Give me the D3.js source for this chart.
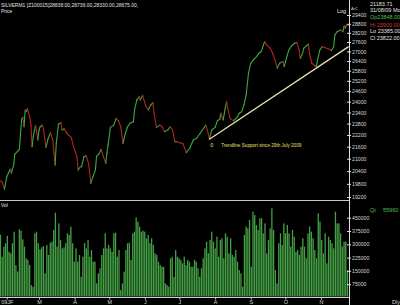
<!DOCTYPE html>
<html><head><meta charset="utf-8">
<script src="https://cdn.jsdelivr.net/npm/d3@7"></script>
<style>html,body{margin:0;padding:0;background:#000;overflow:hidden}</style>
</head><body>
<svg id="c" width="400" height="305"></svg>
<script>
// ---- data ----
const priceDays = [26,28,30,32,35,36,38,39,42,43,44,45,46,47,48,49,50,52,53,54,55,57,59,60,61,63,64,66,68,70,72,73,74,75,77,79,80,82,84,88,90,93,94,96,97,99,101,103,104,105,107,109,110,112,114,116,118,119,120,122,125,127,129,131,133,135,137,139,142,143,145,147,148,150,151,153,155,157,159,160,162,165,167,169,172,174,176,178,180,182,185,188,191,194,197,200,203,205,207,208,210,213,215,217,218,219,220,222,223,224,226,229,232,234,236,238,240,242,244,246,249,251,253,255,256,258,261,263,265,267,269,272,273,275,277,280,282,284,286,287,289,290,293,294,295,297,300,301,302,304,306,308,310,312,314,316,317,319,322,324,325,326,327,329];
const priceClose = [19950,19900,19550,20130,20500,20310,20690,21230,21400,21480,22300,23050,23140,22630,23540,23440,23610,23140,22720,21600,22110,22710,21940,22460,22630,22710,22460,21570,22030,22320,21940,21270,20690,21770,22780,22850,22460,22530,22290,22080,21600,21100,20450,20610,20600,21100,21150,20770,20320,19820,20160,20450,21130,21230,21470,21100,20770,21270,21680,22600,22720,23080,22950,22630,21770,22290,22630,22820,22900,23540,24100,24280,24100,24360,24130,23720,23540,23810,23940,23360,22600,22720,22630,22370,22460,22630,22460,21850,21850,21800,21770,21300,21520,21940,22030,22290,22550,22720,22290,21980,22460,22600,22950,23030,23360,23140,22990,23720,24000,23630,23080,22950,23140,23360,23440,23810,24380,25650,26260,26460,26670,26880,26980,27400,27620,27400,27200,26880,26460,25950,26260,26360,26050,26570,27090,27400,27520,27560,27090,26570,26880,27200,27400,27470,26880,26260,26090,26050,26460,27090,27300,27260,27200,27140,27050,27300,28050,28270,28390,28270,28650,28500,28720,28700];
const trendDays = [208, 329];
const trendValues = [21980, 27300];
const priceTicks = [29400,28800,28200,27600,27000,26400,25800,25200,24600,24000,23400,22800,22200,21600,21000,20400,19800,19200];
const volumeK = [353,230,287,306,347,258,249,306,371,183,146,384,377,328,287,221,212,183,70,61,362,371,306,272,283,290,136,296,240,309,315,381,478,287,418,324,277,283,306,362,353,400,306,202,277,202,240,117,230,306,277,324,230,268,202,202,80,136,165,240,277,362,277,296,277,
 258,362,366,230,268,42,80,146,268,306,309,212,362,371,452,428,400,371,377,371,334,353,306,334,296,249,240,202,183,174,174,80,70,61,221,230,117,268,230,221,212,193,230,183,212,202,174,174,212,202,165,117,165,221,277,315,249,324,371,315,277,343,230,324,334,221,362,343,249,334,240,230,268,
 202,155,136,61,353,400,390,437,174,484,465,409,381,447,447,362,418,249,324,390,503,381,155,80,306,362,296,418,362,409,362,287,381,343,258,268,240,287,334,287,221,362,400,371,334,268,221,475,428,324,249,362,193,343,324,306,277,484,418,418,362,287,315,315,155];
const volumeTicks = [75000,150000,225000,300000,375000,450000];
const monthDays = [32,60,91,121,152,182,213,244,274,305];
const monthLabels = ["09JF","M","A","M","J","J","A","S","O","N"];
const titleText = "SILVERM1 [Z100015]28838.00,28736.00,28330.00,28675.00,";
const infoLabels = ["21183.71","31/08/09 Mo","Op23848.00","Hi 23900.00","Lo 23385.00","Cl 23822.00"];
const infoColors = ["#e8e8c8","#e0e0e0","#4cc04c","#d83030","#e0e0e0","#e0e0e0"];
const annotationText = "Trendline Support since 29th July 2009";

// ---- drawing ----
const FONT = "'Liberation Sans', Arial, sans-serif";
const svg = d3.select("#c").style("font-family", FONT);
svg.append("rect").attr("width",400).attr("height",305).attr("fill","#000");

const x = d3.scaleLinear().domain([60,305]).range([39,321]);
const y = d3.scaleLog().domain([19200,29400]).range([197,15]);
const yv = d3.scaleLinear().domain([0,450000]).range([297.5,217.7]);

// price line, segment coloured by direction
const pts = priceDays.map((d,i)=>({d, v: priceClose[i]}));
const segs = d3.pairs(pts);
svg.append("g").selectAll("line").data(segs).join("line")
  .attr("x1", s=>x(s[0].d)).attr("y1", s=>y(s[0].v))
  .attr("x2", s=>x(s[1].d)).attr("y2", s=>y(s[1].v))
  .attr("stroke", s=> s[1].v >= s[0].v ? "#3fa83f" : "#b3261e")
  .attr("stroke-width", 1.1).attr("stroke-linecap","round");

// trendline
svg.append("line")
  .attr("x1", x(trendDays[0])).attr("y1", y(trendValues[0]))
  .attr("x2", x(trendDays[1])).attr("y2", y(trendValues[1]))
  .attr("stroke","#e4e4a8").attr("stroke-width",1.3);
svg.append("text").attr("x", x(trendDays[0])+1).attr("y", y(trendValues[0])+7.5)
  .attr("fill","#e8e070").attr("font-size",5.5).text("0");
svg.append("text").attr("x", x(trendDays[0])+12).attr("y", y(trendValues[0])+7.5)
  .attr("fill","#e8e070").attr("font-size",5).attr("textLength",80)
  .attr("lengthAdjust","spacingAndGlyphs").text(annotationText);

// volume bars
const n = volumeK.length;
const vi = d3.scaleLinear().domain([0, n-1]).range([26.5, 328]);
svg.append("g").selectAll("rect").data(volumeK).join("rect")
  .attr("x", (d,i)=>x(vi(i))-0.65).attr("width",1.3)
  .attr("y", d=>yv(d*1000)).attr("height", d=>yv(0)-1-yv(d*1000))
  .attr("fill","#44a044");

// panel separator
svg.append("line").attr("x1",0).attr("x2",349).attr("y1",200.5).attr("y2",200.5)
  .attr("stroke","#c8c8c8").attr("stroke-width",1);

// right axis line
svg.append("line").attr("x1",349.5).attr("x2",349.5).attr("y1",0).attr("y2",305)
  .attr("stroke","#e0e0e0").attr("stroke-width",1);

// price axis
const ga = svg.append("g").attr("transform","translate(347,0)")
  .call(d3.axisRight(y).tickValues(priceTicks).tickFormat(d3.format("d")).tickSize(4).tickPadding(1));
ga.select(".domain").remove();
ga.selectAll("line").attr("stroke","#e0e0e0");
ga.selectAll("text").attr("fill","#d8d8d8").attr("font-size",5.2).attr("font-family",FONT);

// volume axis
const gv = svg.append("g").attr("transform","translate(347,0)")
  .call(d3.axisRight(yv).tickValues(volumeTicks).tickFormat(d3.format("d")).tickSize(4).tickPadding(1));
gv.select(".domain").remove();
gv.selectAll("line").attr("stroke","#e0e0e0");
gv.selectAll("text").attr("fill","#d8d8d8").attr("font-size",5.2).attr("font-family",FONT);

// x axis
svg.append("line").attr("x1",0).attr("x2",349).attr("y1",297.5).attr("y2",297.5)
  .attr("stroke","#d0d0d0").attr("stroke-width",1);
const gx = svg.append("g").attr("transform","translate(0,297.5)")
  .call(d3.axisBottom(x).tickValues(monthDays).tickFormat((d,i)=>monthLabels[i]).tickSize(2).tickPadding(0.5));
gx.select(".domain").remove();
gx.selectAll("line").attr("stroke","#d0d0d0");
gx.selectAll("text").attr("fill","#d8d8d8").attr("font-size",5.5).attr("font-family",FONT);
svg.append("text").attr("x",392).attr("y",303.5).attr("fill","#d8d8d8").attr("font-size",5.5).text("Dly");

// texts
svg.append("text").attr("x",1).attr("y",6.5).attr("fill","#e0e0e0").attr("font-size",5).text(titleText);
svg.append("text").attr("x",1).attr("y",12.5).attr("fill","#e0e0e0").attr("font-size",5).text("Price");
svg.append("text").attr("x",1).attr("y",206.5).attr("fill","#e0e0e0").attr("font-size",5).text("Vol");
svg.append("text").attr("x",337).attr("y",12.5).attr("fill","#e0e0e0").attr("font-size",5.5).text("Log");
svg.append("text").attr("x",351).attr("y",10).attr("fill","#d0d0d0").attr("font-size",4).text("ArC");
const infoY = [6, 11.5, 19, 26.5, 33, 40];
svg.append("g").selectAll("text").data(infoLabels).join("text")
  .attr("x",370).attr("y",(d,i)=>infoY[i]).attr("fill",(d,i)=>infoColors[i])
  .attr("font-size",5.5).text(d=>d);
svg.append("text").attr("x",370).attr("y",212).attr("fill","#4cc04c").attr("font-size",5.5).text("Qt");
svg.append("text").attr("x",383).attr("y",212).attr("fill","#4cc04c").attr("font-size",5.5).text("55960");
</script>
</body></html>
